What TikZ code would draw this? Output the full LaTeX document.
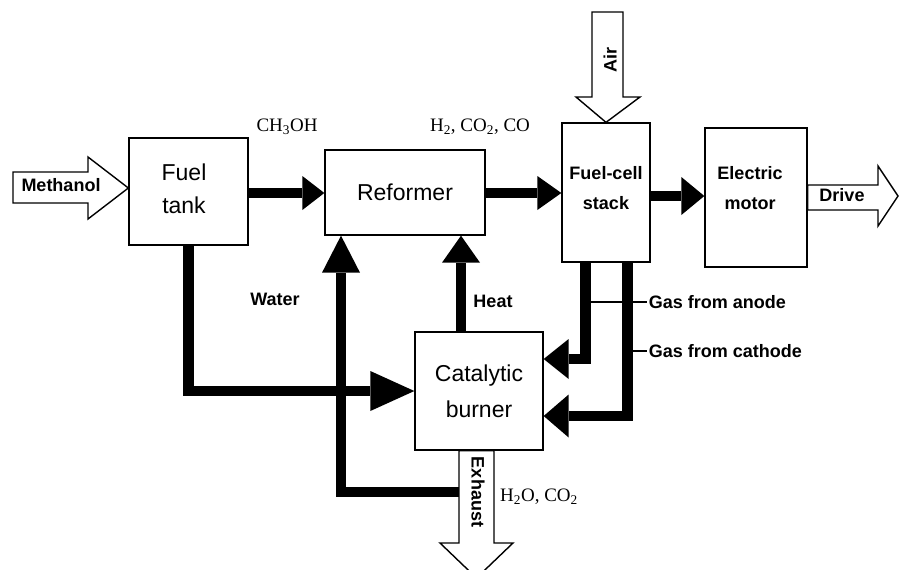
\documentclass[tikz,border=0pt]{standalone}
\usepackage{fontspec}
\setmainfont{Liberation Sans}
\newfontfamily\chemfont{Liberation Serif}
\usetikzlibrary{arrows.meta}
\begin{document}
\begin{tikzpicture}[x=1pt,y=-1pt,
  box/.style={draw, line width=1.3pt, inner sep=0pt, align=center, font=\fontsize{23}{33}\selectfont},
  boxtext/.style={inner sep=0pt, align=center, font=\fontsize{18}{30}\selectfont\bfseries},
  lbl/.style={font=\fontsize{18}{20}\selectfont\bfseries, inner sep=0pt},
  chem/.style={font=\fontsize{19}{21}\selectfont\chemfont, inner sep=0pt},
  flow/.style={line width=10.5pt, line join=miter},
  blk/.style={draw, fill=white, line width=1.4pt, line join=miter},
  leader/.style={line width=1.5pt},
  tip/.style n args={2}{-{Triangle[length=#1pt,width=#2pt,line width=0pt]}}
]
\useasboundingbox (0,0) rectangle (900,570);

% boxes
\node[box, minimum width=119, minimum height=107] (ft) at (188.5,191.5) {};
\node[inner sep=0pt, align=center, font=\fontsize{23}{33}\selectfont] (fttext) at (184,189) {Fuel\\tank};
\node[box, minimum width=160, minimum height=85] (ref) at (405,192.5) {Reformer};
\node[box, minimum width=88, minimum height=139] (fc) at (606,192.5) {};
\node[boxtext] (fctext) at (606,188.5) {Fuel-cell\\stack};
\node[box, minimum width=102, minimum height=139] (em) at (756,197.5) {};
\node[boxtext] (emtext) at (750,188) {Electric\\motor};
\node[box, minimum width=128, minimum height=118, font=\fontsize{23}{36}\selectfont] (cb) at (479,391) {Catalytic\\burner};

% block arrows
\draw[blk] (13,172) -- (88,172) -- (88,157) -- (ft.west |- 0,188) -- (88,219) -- (88,203) -- (13,203) -- cycle;
\node[lbl] (meth) at (61,185) {Methanol};

\draw[blk] (592,12) -- (623,12) -- (623,97) -- (640,97) -- (fc.north) -- (576,97) -- (592,97) -- cycle;
\node[lbl, rotate=90] (air) at (610,60) {Air};

\draw[blk] (em.east |- 0,185) -- (878,185) -- (878,166) -- (898,196) -- (878,226) -- (878,210) -- (em.east |- 0,210) -- cycle;
\node[lbl] (drive) at (842,195) {Drive};

\draw[blk] (cb.south -| 459,0) -- (459,543) -- (440,543) -- (476.5,578) -- (513,543) -- (494,543) -- (cb.south -| 494,0) -- cycle;
\node[lbl, rotate=-90] (exh) at (478,492) {Exhaust};
\coordinate (wj) at (459,492);

% thick flows
\draw[flow, tip={22}{34}] (ft.east |- 0,193) -- (ref.west |- 0,193);
\draw[flow, tip={24}{34}] (ref.east |- 0,193) -- (fc.west |- 0,193);
\draw[flow, tip={23}{38}] (fc.east |- 0,196) -- (em.west |- 0,196);
\draw[flow, tip={44}{40}] (ft.south) -- (ft.south |- 0,391) -- (cb.west |- 0,391);
\draw[flow, tip={37}{38}] (wj) -- (341,492) -- (ref.south -| 341,0);
\draw[flow, tip={27}{38}] (cb.north -| 461,0) -- (ref.south -| 461,0);
\draw[flow, tip={25}{40}] (fc.south -| 585.5,0) -- (585.5,359) -- (cb.east |- 0,359);
\draw[flow, tip={25}{43}] (fc.south -| 627.5,0) -- (627.5,416) -- (cb.east |- 0,416);

% leaders
\draw[leader] (591,302) -- (647,302) node[lbl, anchor=west, xshift=1pt] (ga) {Gas from anode};
\draw[leader] (633,351) -- (647,351) node[lbl, anchor=west, xshift=1pt] (gc) {Gas from cathode};

% labels
\node[lbl] (water) at (275,299) {Water};
\node[lbl] (heat) at (493,301) {Heat};
\node[chem] (ch3oh) at (287,127) {CH\textsubscript{3}OH};
\node[chem] (h2) at (480,127) {H\textsubscript{2}, CO\textsubscript{2}, CO};
\node[chem, anchor=west] (h2o) at (500,497) {H\textsubscript{2}O, CO\textsubscript{2}};
\end{tikzpicture}
\end{document}
